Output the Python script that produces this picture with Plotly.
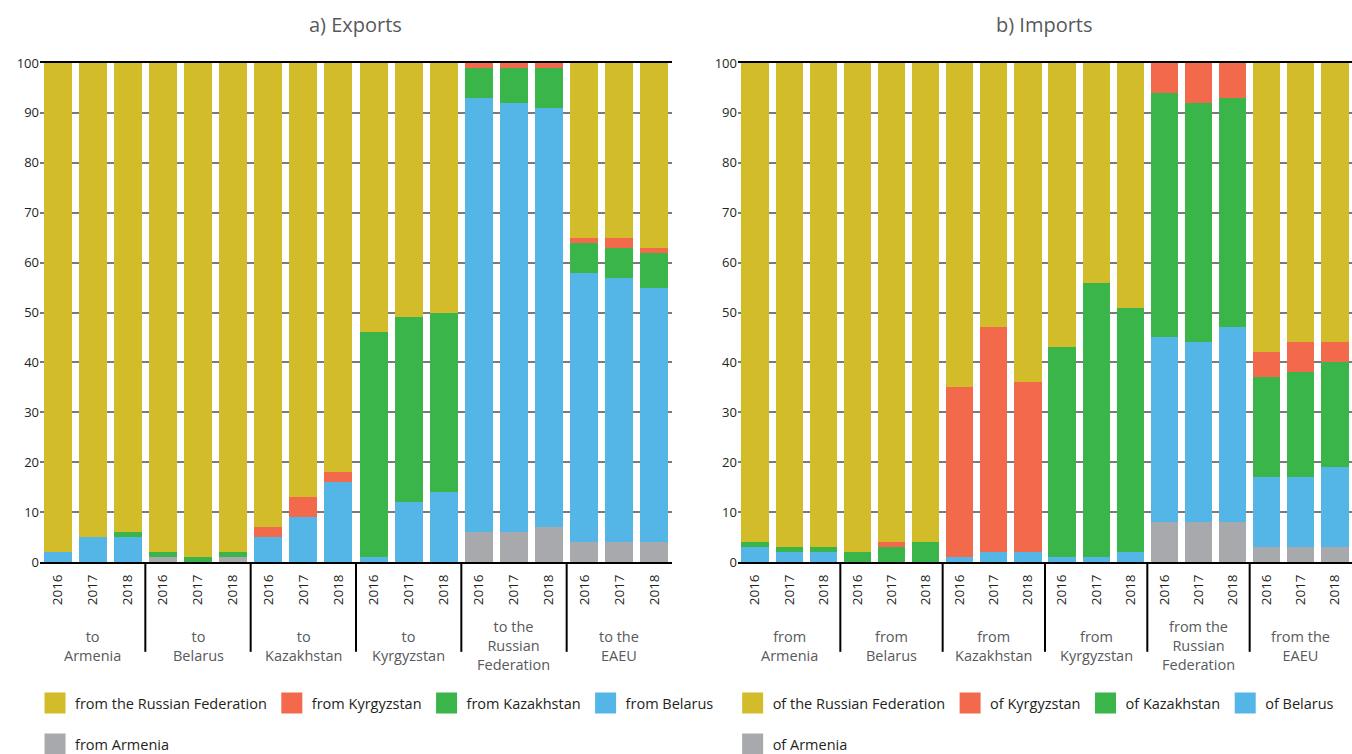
import plotly.graph_objects as go

years = ['2016', '2017', '2018']
exp_groups = ['to<br>Armenia', 'to<br>Belarus', 'to<br>Kazakhstan', 'to<br>Kyrgyzstan',
              'to the<br>Russian<br>Federation', 'to the<br>EAEU']
imp_groups = ['from<br>Armenia', 'from<br>Belarus', 'from<br>Kazakhstan', 'from<br>Kyrgyzstan',
              'from the<br>Russian<br>Federation', 'from the<br>EAEU']

# Exports (shares, %), order: group-major, years inner
exp_armenia    = [0, 0, 0,  1, 0, 1,  0, 0, 0,   0, 0, 0,    6, 6, 7,    4, 4, 4]
exp_belarus    = [2, 5, 5,  0, 0, 0,  5, 9, 16,  1, 12, 14,  87, 86, 84, 54, 53, 51]
exp_kazakhstan = [0, 0, 1,  1, 1, 1,  0, 0, 0,   45, 37, 36, 6, 7, 8,    6, 6, 7]
exp_kyrgyzstan = [0, 0, 0,  0, 0, 0,  2, 4, 2,   0, 0, 0,    1, 1, 1,    1, 2, 1]
exp_russia     = [98, 95, 94, 98, 99, 98, 93, 87, 82, 54, 51, 50, 0, 0, 0, 35, 35, 37]

# Imports (shares, %)
imp_armenia    = [0, 0, 0,  0, 0, 0,  0, 0, 0,    0, 0, 0,    8, 8, 8,    3, 3, 3]
imp_belarus    = [3, 2, 2,  0, 0, 0,  1, 2, 2,    1, 1, 2,    37, 36, 39, 14, 14, 16]
imp_kazakhstan = [1, 1, 1,  2, 3, 4,  0, 0, 0,    42, 55, 49, 49, 48, 46, 20, 21, 21]
imp_kyrgyzstan = [0, 0, 0,  0, 1, 0,  34, 45, 34, 0, 0, 0,    6, 8, 7,    5, 6, 4]
imp_russia     = [96, 97, 97, 98, 96, 96, 65, 53, 64, 57, 44, 49, 0, 0, 0, 58, 56, 56]

y_ticks = list(range(0, 101, 10))

colors = {
    'armenia': '#A7A9AC',
    'belarus': '#53B6E7',
    'kazakhstan': '#3AB54A',
    'kyrgyzstan': '#F2694C',
    'russia': '#D2BC29',
}

FONT = 'Open Sans'
TXT = '#231F20'
GRP = '#58595B'

n_years = len(years)
n_bars = len(exp_groups) * n_years
x_pos = list(range(n_bars))
x_text = [y for _ in exp_groups for y in years]

fig = go.Figure()

exp_series = [
    ('armenia', exp_armenia), ('belarus', exp_belarus), ('kazakhstan', exp_kazakhstan),
    ('kyrgyzstan', exp_kyrgyzstan), ('russia', exp_russia)]
imp_series = [
    ('armenia', imp_armenia), ('belarus', imp_belarus), ('kazakhstan', imp_kazakhstan),
    ('kyrgyzstan', imp_kyrgyzstan), ('russia', imp_russia)]

for key, vals in exp_series:
    fig.add_trace(go.Bar(x=x_pos, y=vals, marker=dict(color=colors[key], line=dict(width=0)),
                         showlegend=False, xaxis='x', yaxis='y', hoverinfo='y'))
for key, vals in imp_series:
    fig.add_trace(go.Bar(x=x_pos, y=vals, marker=dict(color=colors[key], line=dict(width=0)),
                         showlegend=False, xaxis='x2', yaxis='y2', hoverinfo='y'))

names_exp = {'russia': 'from the Russian Federation', 'kyrgyzstan': 'from Kyrgyzstan',
             'kazakhstan': 'from Kazakhstan', 'belarus': 'from Belarus', 'armenia': 'from Armenia'}
names_imp = {'russia': 'of the Russian Federation', 'kyrgyzstan': 'of Kyrgyzstan',
             'kazakhstan': 'of Kazakhstan', 'belarus': 'of Belarus', 'armenia': 'of Armenia'}
order = ['russia', 'kyrgyzstan', 'kazakhstan', 'belarus', 'armenia']

# legend-only entries (large square swatches)
for key in order:
    lg = 'legend3' if key == 'armenia' else 'legend'
    fig.add_trace(go.Scatter(x=[None], y=[None], mode='markers', name=names_exp[key], legend=lg,
                             marker=dict(symbol='square', size=16, color=colors[key],
                                         line=dict(width=5, color=colors[key])),
                             xaxis='x', yaxis='y'))
for key in order:
    lg = 'legend4' if key == 'armenia' else 'legend2'
    fig.add_trace(go.Scatter(x=[None], y=[None], mode='markers', name=names_imp[key], legend=lg,
                             marker=dict(symbol='square', size=16, color=colors[key],
                                         line=dict(width=5, color=colors[key])),
                             xaxis='x2', yaxis='y2'))

xaxis_common = dict(
    range=[-0.5, n_bars - 0.5], tickvals=x_pos, ticktext=x_text, tickangle=-90,
    showline=True, linecolor='black', linewidth=2, mirror=True,
    ticks='', showgrid=False, zeroline=False, ticklabelstandoff=5,
    tickfont=dict(family=FONT, size=13.5, color=TXT),
)
yaxis_common = dict(
    range=[0, 100], tickvals=y_ticks, showgrid=True, gridcolor='#7a7a7a', gridwidth=1.5,
    zeroline=False, showline=False, ticks='',
    tickfont=dict(family=FONT, size=13, color=TXT),
)

legend_common = dict(orientation='h', xanchor='left', yanchor='middle',
                     xref='container', yref='container', traceorder='normal',
                     font=dict(family=FONT, size=14.5, color=TXT), bgcolor='rgba(0,0,0,0)',
                     itemclick=False, itemdoubleclick=False)

annotations = [
    dict(text='a) Exports', xref='x domain', yref='paper', x=0.5, y=1.078, yanchor='middle',
         showarrow=False, font=dict(family=FONT, size=20, color='#58595B')),
    dict(text='b) Imports', xref='x2 domain', yref='paper', x=0.5, y=1.078, yanchor='middle',
         showarrow=False, font=dict(family=FONT, size=20, color='#58595B')),
]
shapes = []
for xr, yr, groups in [('x', 'y domain', exp_groups), ('x2', 'y2 domain', imp_groups)]:
    for g, label in enumerate(groups):
        center = g * n_years + (n_years - 1) / 2
        annotations.append(dict(text=label, xref=xr, yref=yr, x=center, y=-0.168,
                                yanchor='middle', xanchor='center', showarrow=False,
                                font=dict(family=FONT, size=14.5, color=GRP)))
        if g > 0:
            xd = g * n_years - 0.5
            shapes.append(dict(type='line', xref=xr, yref=yr, x0=xd, x1=xd, y0=0, y1=-0.18,
                               line=dict(color='black', width=2)))

fig.update_layout(
    width=1352, height=754,
    margin=dict(l=40, r=0, t=63, b=192),
    plot_bgcolor='white', paper_bgcolor='white',
    barmode='stack', bargap=0.2,
    font=dict(family=FONT, color=TXT),
    xaxis=dict(domain=[0, 0.4817], **xaxis_common),
    yaxis=dict(**yaxis_common),
    xaxis2=dict(domain=[0.532, 1], anchor='y2', **xaxis_common),
    yaxis2=dict(anchor='x2', **yaxis_common),
    legend=dict(x=0.0259, y=0.0676, **legend_common),
    legend2=dict(x=0.5419, y=0.0676, **legend_common),
    legend3=dict(x=0.0259, y=0.013, **legend_common),
    legend4=dict(x=0.5419, y=0.013, **legend_common),
    annotations=annotations,
    shapes=shapes,
)

fig.write_html('out.html')
